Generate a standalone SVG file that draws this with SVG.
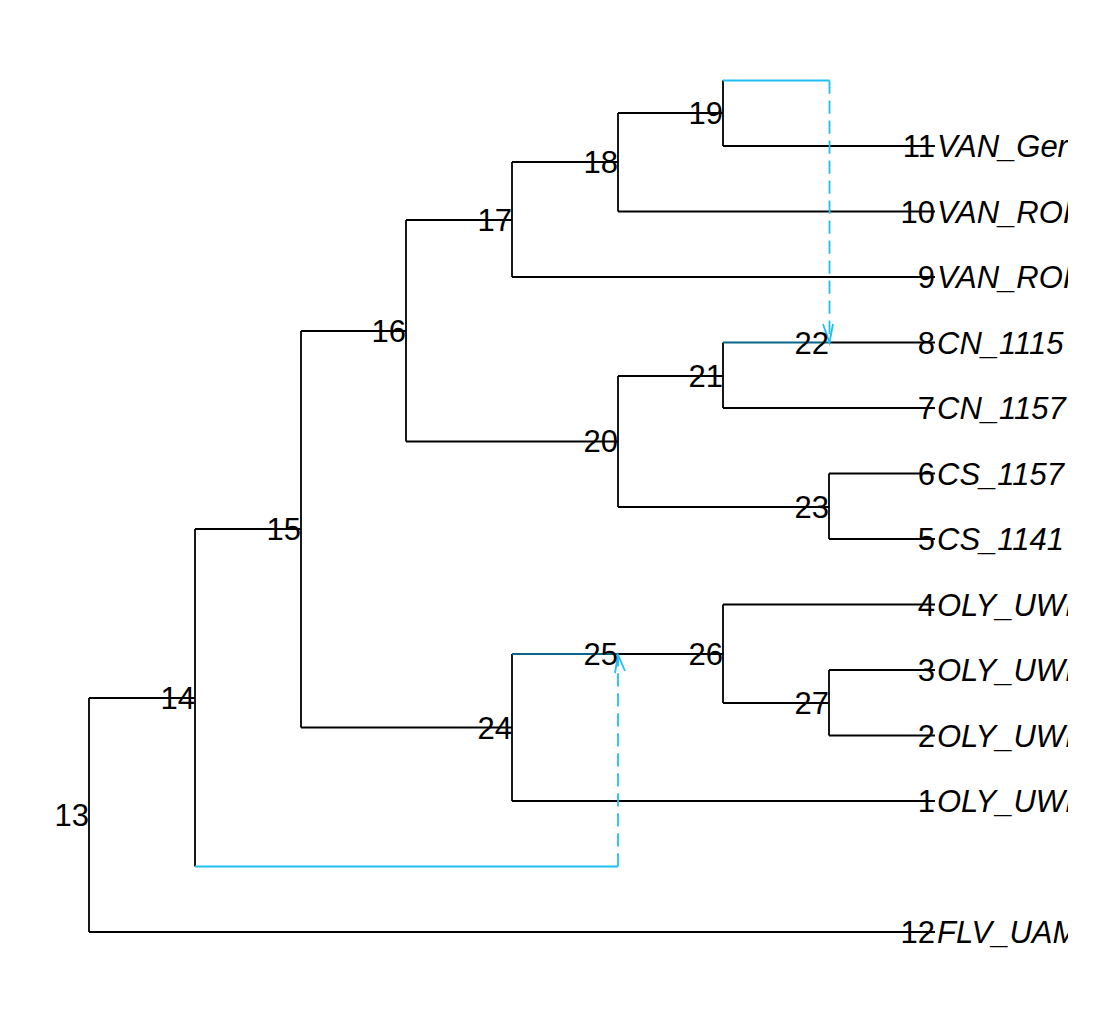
<svg xmlns="http://www.w3.org/2000/svg" width="1108" height="1018" viewBox="0 0 1108 1018">
<style>
.e{stroke:#000;stroke-width:1.8;fill:none}
.b{stroke:#1ebff3;stroke-width:1.8;fill:none}
.bd{stroke:#1ebff3;stroke-width:1.8;fill:none;stroke-dasharray:13.3 6.7}
.t{stroke:#0a6688;stroke-width:1.8;fill:none}
text{font-family:"Liberation Sans",Arial,sans-serif;font-size:31px;fill:#000}
.n{text-anchor:end}
.nm{font-style:italic}
</style>
<defs>
<clipPath id="clip"><rect x="0" y="0" width="1068" height="1018"/></clipPath>
</defs>
<rect width="1108" height="1018" fill="#fff"/>
<g id="connectors">
<path class="e" d="M89,698V932M89,698H195M89,932H935"/>
<path class="e" d="M195,529V866.5M195,529H301"/>
<path class="e" d="M301,331V727.5M301,331H406M301,727.5H512"/>
<path class="e" d="M406,220V441.5M406,220H512M406,441.5H618"/>
<path class="e" d="M512,162V277M512,162H618M512,277H935"/>
<path class="e" d="M618,113V211.5M618,113H723M618,211.5H935"/>
<path class="e" d="M723,80.5V146M723,146H935"/>
<path class="e" d="M618,376V507M618,376H723M618,507H829"/>
<path class="e" d="M723,342.5V408M723,408H935"/>
<path class="e" d="M829,342.5H935"/>
<path class="e" d="M829,473.5V539M829,473.5H935M829,539H935"/>
<path class="e" d="M512,654V801M512,801H935"/>
<path class="e" d="M618,654H723"/>
<path class="e" d="M723,604.5V703M723,604.5H935M723,703H829"/>
<path class="e" d="M829,670V735.5M829,670H935M829,735.5H935"/>
<path class="t" d="M723,342.5H829"/>
<path class="t" d="M512,654H618"/>
<path class="b" d="M723,80.5H829.5"/>
<path class="bd" d="M829.5,80.5V342.5"/>
<path class="b" d="M823,324L829.5,342.5L833,324"/>
<path class="b" d="M195,866.5H618"/>
<path class="bd" d="M618,866.5V655"/>
<path class="b" d="M615,673L618,655L625,671"/>
</g>
<g id="node13"><text class="n" x="89" y="826">13</text></g>
<g id="node14"><text class="n" x="195" y="709">14</text></g>
<g id="node15"><text class="n" x="301" y="540">15</text></g>
<g id="node16"><text class="n" x="406" y="342">16</text></g>
<g id="node17"><text class="n" x="512" y="231">17</text></g>
<g id="node18"><text class="n" x="618" y="173">18</text></g>
<g id="node19"><text class="n" x="723" y="124">19</text></g>
<g id="node20"><text class="n" x="618" y="452">20</text></g>
<g id="node21"><text class="n" x="723" y="387">21</text></g>
<g id="node22"><text class="n" x="829" y="353.5">22</text></g>
<g id="node23"><text class="n" x="829" y="518">23</text></g>
<g id="node24"><text class="n" x="512" y="738.5">24</text></g>
<g id="node25"><text class="n" x="618" y="665">25</text></g>
<g id="node26"><text class="n" x="723" y="665">26</text></g>
<g id="node27"><text class="n" x="829" y="714">27</text></g>
<g clip-path="url(#clip)">
<g id="tip11"><text class="n" x="935" y="157">11</text><text class="nm" x="937" y="157">VAN_Ger</text></g>
<g id="tip10"><text class="n" x="935" y="222.5">10</text><text class="nm" x="937" y="222.5">VAN_ROI</text></g>
<g id="tip9"><text class="n" x="935" y="288">9</text><text class="nm" x="937" y="288">VAN_ROI</text></g>
<g id="tip8"><text class="n" x="935" y="353.5">8</text><text class="nm" x="937" y="353.5">CN_1115</text></g>
<g id="tip7"><text class="n" x="935" y="419">7</text><text class="nm" x="937" y="419">CN_1157</text></g>
<g id="tip6"><text class="n" x="935" y="484.5">6</text><text class="nm" x="937" y="484.5">CS_1157</text></g>
<g id="tip5"><text class="n" x="935" y="550">5</text><text class="nm" x="937" y="550">CS_1141</text></g>
<g id="tip4"><text class="n" x="935" y="615.5">4</text><text class="nm" x="937" y="615.5">OLY_UWI</text></g>
<g id="tip3"><text class="n" x="935" y="681">3</text><text class="nm" x="937" y="681">OLY_UWI</text></g>
<g id="tip2"><text class="n" x="935" y="746.5">2</text><text class="nm" x="937" y="746.5">OLY_UWI</text></g>
<g id="tip1"><text class="n" x="935" y="812">1</text><text class="nm" x="937" y="812">OLY_UWI</text></g>
<g id="tip12"><text class="n" x="935" y="943">12</text><text class="nm" x="937" y="943">FLV_UAM</text></g>
</g>
</svg>
